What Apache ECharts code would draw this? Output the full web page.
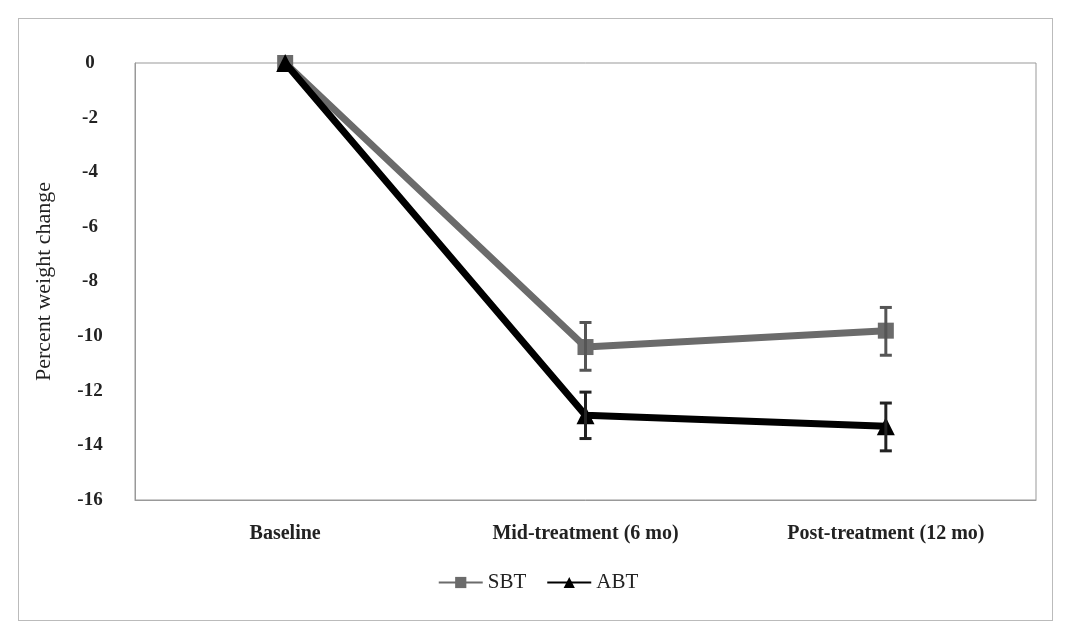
<!DOCTYPE html>
<html><head><meta charset="utf-8">
<script src="https://cdn.jsdelivr.net/npm/echarts@6/dist/echarts.min.js"></script>
<style>body{margin:0;background:#fff}#box{position:absolute;left:18px;top:18px;width:1033px;height:601px;border:1px solid #bbb}#chartDiv{width:1076px;height:636px}</style>
</head><body><div id="box"></div><div id="chartDiv"></div>
<script>
var categories = ['Baseline', 'Mid-treatment (6 mo)', 'Post-treatment (12 mo)'];
var sbt = [0, -10.4, -9.8];
var sbtLow = [0, -11.25, -10.7];
var sbtHigh = [0, -9.5, -8.95];
var abt = [0, -12.9, -13.3];
var abtLow = [0, -13.75, -14.2];
var abtHigh = [0, -12.05, -12.45];

var myChart = echarts.init(document.getElementById('chartDiv'));
var errBar = function(low, high, color){
    return {
        type: 'custom',
        z: 5,
        data: categories.map(function(c, i){ return [i, low[i], high[i]] }),
        renderItem: function(params, api){
            if (api.value(1) === api.value(2)) return null;
            var a = api.coord([api.value(0), api.value(1)]);
            var b = api.coord([api.value(0), api.value(2)]);
            var st = {stroke: color, lineWidth: 3};
            return {type: 'group', children: [
                {type: 'line', shape: {x1: a[0], y1: a[1], x2: b[0], y2: b[1]}, style: st},
                {type: 'line', shape: {x1: a[0]-6, y1: a[1], x2: a[0]+6, y2: a[1]}, style: st},
                {type: 'line', shape: {x1: b[0]-6, y1: b[1], x2: b[0]+6, y2: b[1]}, style: st}
            ]};
        }
    };
};
var font = 'Liberation Serif';
myChart.setOption({
    textStyle: {fontFamily: font},
    grid: {left: 135, right: 40, top: 63, bottom: 136, show: true, borderColor: '#999', borderWidth: 1},
    legend: {
        bottom: 38, left: 'center', itemWidth: 44, itemHeight: 14, itemGap: 20,
        textStyle: {fontSize: 21, color: '#222', fontFamily: font},
        data: ['SBT', 'ABT']
    },
    xAxis: {
        type: 'category', data: categories, boundaryGap: true, position: 'bottom',
        axisTick: {show: false},
        axisLine: {onZero: false, lineStyle: {color: '#999'}},
        axisLabel: {fontSize: 20, color: '#222', margin: 24, fontWeight: 'bold'}
    },
    yAxis: {
        type: 'value', min: -16, max: 0, interval: 2,
        name: 'Percent weight change', nameLocation: 'middle', nameGap: 80,
        nameTextStyle: {fontSize: 22, color: '#222', fontFamily: font},
        axisLine: {show: true, lineStyle: {color: '#999'}},
        splitLine: {show: false},
        axisLabel: {fontSize: 19, color: '#222', margin: 45, align: 'center', fontWeight: 'bold'}
    },
    series: [
        {name: 'SBT', type: 'line', data: sbt, symbol: 'rect', symbolSize: 16,
         lineStyle: {width: 7, color: '#6b6b6b'}, itemStyle: {color: '#6b6b6b'}, z: 3},
        {name: 'ABT', type: 'line', data: abt, symbol: 'triangle', symbolSize: 18,
         lineStyle: {width: 7, color: '#000'}, itemStyle: {color: '#000'}, z: 4},
        errBar(sbtLow, sbtHigh, '#555'),
        errBar(abtLow, abtHigh, '#222')
    ]
});
</script></body></html>
